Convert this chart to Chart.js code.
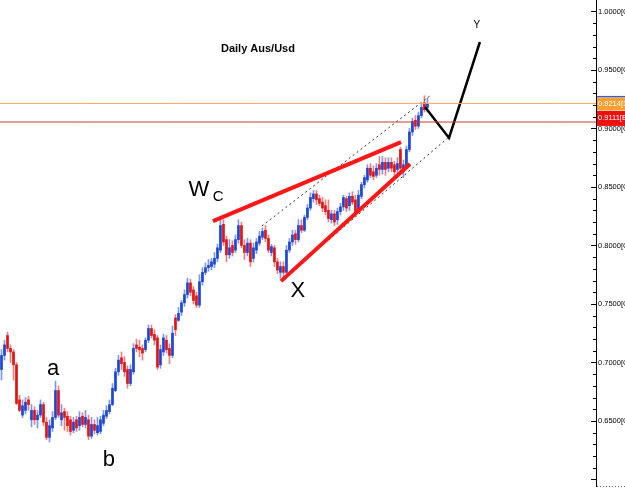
<!DOCTYPE html>
<html>
<head>
<meta charset="utf-8">
<script src="https://cdn.jsdelivr.net/npm/chart.js@4.4.0/dist/chart.umd.min.js"></script>
<style>
  html, body { margin: 0; padding: 0; background: #fff; }
</style>
</head>
<body>
<canvas id="chart" width="625" height="498"></canvas>
<script>
// daily AUD/USD candles
const opens = [
  0.694, 0.706, 0.723, 0.712, 0.709, 0.698, 0.668, 0.655, 0.659, 0.668,
  0.651, 0.659, 0.651, 0.655, 0.664, 0.649, 0.636, 0.644, 0.653, 0.676,
  0.651, 0.658, 0.654, 0.651, 0.642, 0.651, 0.646, 0.654, 0.647, 0.651,
  0.637, 0.647, 0.640, 0.641, 0.648, 0.654, 0.658, 0.664, 0.676, 0.692,
  0.704, 0.700, 0.694, 0.682, 0.692, 0.715, 0.713, 0.712, 0.711, 0.719,
  0.729, 0.724, 0.721, 0.698, 0.709, 0.719, 0.712, 0.706, 0.738, 0.736,
  0.743, 0.751, 0.758, 0.768, 0.762, 0.757, 0.749, 0.769, 0.777, 0.781,
  0.782, 0.784, 0.789, 0.796, 0.818, 0.805, 0.792, 0.800, 0.796, 0.805,
  0.817, 0.800, 0.794, 0.802, 0.789, 0.796, 0.802, 0.807, 0.813, 0.806,
  0.794, 0.798, 0.786, 0.777, 0.782, 0.777, 0.796, 0.803, 0.810, 0.805,
  0.817, 0.813, 0.824, 0.832, 0.840, 0.844, 0.840, 0.837, 0.834, 0.830,
  0.822, 0.827, 0.822, 0.829, 0.833, 0.840, 0.834, 0.842, 0.839, 0.830,
  0.842, 0.852, 0.856, 0.866, 0.863, 0.860, 0.869, 0.865, 0.871, 0.866,
  0.871, 0.869, 0.865, 0.882, 0.863, 0.868, 0.882, 0.897, 0.907, 0.902,
  0.911, 0.922, 0.918
];
const closes = [
  0.706, 0.715, 0.712, 0.709, 0.698, 0.665, 0.659, 0.663, 0.666, 0.664,
  0.659, 0.651, 0.655, 0.664, 0.649, 0.636, 0.646, 0.653, 0.676, 0.655,
  0.657, 0.653, 0.646, 0.641, 0.649, 0.644, 0.653, 0.647, 0.653, 0.637,
  0.647, 0.642, 0.646, 0.651, 0.655, 0.659, 0.664, 0.678, 0.692, 0.702,
  0.699, 0.692, 0.682, 0.694, 0.712, 0.712, 0.711, 0.708, 0.719, 0.729,
  0.723, 0.719, 0.696, 0.711, 0.721, 0.711, 0.706, 0.725, 0.728, 0.742,
  0.751, 0.758, 0.768, 0.760, 0.753, 0.749, 0.769, 0.777, 0.781, 0.783,
  0.786, 0.789, 0.798, 0.817, 0.803, 0.792, 0.798, 0.794, 0.805, 0.817,
  0.800, 0.794, 0.802, 0.786, 0.798, 0.803, 0.808, 0.812, 0.806, 0.796,
  0.799, 0.786, 0.779, 0.782, 0.777, 0.796, 0.803, 0.809, 0.805, 0.817,
  0.813, 0.824, 0.832, 0.841, 0.844, 0.839, 0.836, 0.832, 0.829, 0.823,
  0.827, 0.820, 0.829, 0.833, 0.841, 0.832, 0.842, 0.837, 0.829, 0.843,
  0.852, 0.858, 0.866, 0.860, 0.859, 0.866, 0.865, 0.871, 0.865, 0.871,
  0.866, 0.863, 0.870, 0.866, 0.869, 0.882, 0.897, 0.906, 0.902, 0.911,
  0.918, 0.916, 0.921
];
const highs = [
  0.711, 0.719, 0.726, 0.715, 0.711, 0.700, 0.672, 0.668, 0.670, 0.671,
  0.664, 0.662, 0.659, 0.668, 0.666, 0.653, 0.651, 0.658, 0.684, 0.680,
  0.664, 0.661, 0.658, 0.654, 0.653, 0.654, 0.658, 0.657, 0.659, 0.655,
  0.653, 0.651, 0.653, 0.654, 0.659, 0.663, 0.668, 0.682, 0.695, 0.706,
  0.709, 0.705, 0.697, 0.698, 0.716, 0.720, 0.719, 0.715, 0.721, 0.732,
  0.732, 0.728, 0.723, 0.715, 0.724, 0.723, 0.716, 0.731, 0.741, 0.747,
  0.753, 0.762, 0.772, 0.771, 0.765, 0.760, 0.775, 0.781, 0.785, 0.788,
  0.789, 0.794, 0.801, 0.822, 0.822, 0.808, 0.805, 0.804, 0.809, 0.822,
  0.820, 0.805, 0.806, 0.805, 0.802, 0.806, 0.812, 0.815, 0.817, 0.809,
  0.801, 0.800, 0.789, 0.786, 0.786, 0.800, 0.806, 0.813, 0.813, 0.822,
  0.822, 0.826, 0.835, 0.845, 0.847, 0.847, 0.843, 0.841, 0.839, 0.839,
  0.830, 0.830, 0.832, 0.836, 0.843, 0.842, 0.845, 0.846, 0.843, 0.847,
  0.854, 0.860, 0.869, 0.870, 0.868, 0.870, 0.876, 0.876, 0.875, 0.875,
  0.875, 0.872, 0.875, 0.884, 0.873, 0.885, 0.900, 0.909, 0.911, 0.914,
  0.921, 0.928, 0.926
];
const lows = [
  0.685, 0.702, 0.709, 0.700, 0.685, 0.664, 0.658, 0.653, 0.656, 0.659,
  0.645, 0.647, 0.644, 0.653, 0.646, 0.634, 0.632, 0.641, 0.651, 0.653,
  0.646, 0.642, 0.641, 0.638, 0.640, 0.641, 0.642, 0.645, 0.644, 0.634,
  0.635, 0.639, 0.638, 0.639, 0.646, 0.652, 0.656, 0.663, 0.675, 0.689,
  0.694, 0.688, 0.678, 0.680, 0.690, 0.709, 0.705, 0.702, 0.709, 0.717,
  0.721, 0.715, 0.694, 0.695, 0.706, 0.708, 0.699, 0.704, 0.723, 0.735,
  0.740, 0.748, 0.755, 0.757, 0.750, 0.747, 0.747, 0.766, 0.775, 0.778,
  0.779, 0.781, 0.786, 0.794, 0.800, 0.786, 0.789, 0.791, 0.794, 0.802,
  0.798, 0.788, 0.791, 0.782, 0.786, 0.793, 0.800, 0.805, 0.803, 0.794,
  0.791, 0.782, 0.776, 0.772, 0.770, 0.776, 0.794, 0.800, 0.801, 0.803,
  0.811, 0.812, 0.822, 0.830, 0.837, 0.835, 0.834, 0.829, 0.826, 0.820,
  0.819, 0.817, 0.818, 0.826, 0.830, 0.829, 0.830, 0.835, 0.826, 0.828,
  0.840, 0.849, 0.854, 0.858, 0.856, 0.858, 0.860, 0.861, 0.860, 0.863,
  0.863, 0.860, 0.862, 0.864, 0.858, 0.866, 0.880, 0.894, 0.899, 0.900,
  0.909, 0.914, 0.914
];

const yTicks = [0.65, 0.70, 0.75, 0.80, 0.85, 0.90, 0.95, 1.00];
const askPrice = 0.9214;
const bidPrice = 0.9055;
const priceTags = ['0.9214[1]', '0.9111[B]'];

// drawn-on lines (x = bar number, y = price)
const wedgeTop = [{ x: 71.0, y: 0.8208 }, { x: 133.7, y: 0.8884 }];
const wedgeBottom = [{ x: 93.7, y: 0.7695 }, { x: 136.7, y: 0.8696 }];
const channelTop = [{ x: 87.3, y: 0.8166 }, { x: 143.3, y: 0.9278 }];
const channelBottom = [{ x: 108.3, y: 0.8020 }, { x: 149.3, y: 0.8919 }];
const projection = [{ x: 141.7, y: 0.9183 }, { x: 149.7, y: 0.8919 }, { x: 160.0, y: 0.9739 }];

const notes = [
  { text: 'Daily Aus/Usd', x: 86.0, y: 0.9679, font: 'bold 11px Arial' },
  { text: 'a', x: 17.7, y: 0.6943, font: '22px Arial' },
  { text: 'b', x: 36.3, y: 0.6165, font: '22px Arial' },
  { text: 'W', x: 66.3, y: 0.8474, font: '22px Arial' },
  { text: 'C', x: 72.7, y: 0.8414, font: '15px Arial' },
  { text: 'X', x: 99.3, y: 0.7610, font: '22px Arial' },
  { text: 'Y', x: 159.0, y: 0.9884, font: '10px Arial' }
];

const X_MAX = 198.7;
const BLUE = '#1c46d6';
const RED = '#e41414';

const bodies = opens.map((o, i) => ({ x: i + 0.5, y: [o, closes[i]] }));
const wicks = opens.map((o, i) => ({ x: i + 0.5, y: [lows[i], highs[i]] }));
const up = opens.map((o, i) => closes[i] >= o);

function line(data, color, width, dash) {
  return {
    type: 'line',
    data: data,
    borderColor: color,
    borderWidth: width,
    borderDash: dash || [],
    pointRadius: 0,
    fill: false,
    tension: 0,
    order: 0
  };
}

const extras = {
  id: 'extras',
  afterDraw(chart) {
    const ctx = chart.ctx;
    const xs = chart.scales.x;
    const ys = chart.scales.y;
    const area = chart.chartArea;
    ctx.save();

    // ticks inside the axis
    ctx.strokeStyle = '#000';
    ctx.lineWidth = 1;
    for (let k = 60; k <= 100; k++) {
      const y = Math.round(ys.getPixelForValue(k / 100)) + 0.5;
      const len = k % 5 === 0 ? 5 : 3;
      ctx.beginPath();
      ctx.moveTo(area.right - len, y);
      ctx.lineTo(area.right, y);
      ctx.stroke();
    }
    ctx.setLineDash([1, 2]);
    ctx.strokeStyle = '#666';
    ctx.beginPath();
    ctx.moveTo(area.right + 1, area.bottom + 0.5);
    ctx.lineTo(chart.width, area.bottom + 0.5);
    ctx.stroke();
    ctx.setLineDash([]);

    // price tags on the axis
    const yAsk = ys.getPixelForValue(askPrice);
    ctx.font = '7.5px Arial';
    ctx.textBaseline = 'middle';
    ctx.textAlign = 'left';
    ctx.fillStyle = '#2f5fe0';
    ctx.fillRect(area.right + 1, yAsk - 7.5, 40, 1.5);
    ctx.fillStyle = '#f6a030';
    ctx.fillRect(area.right + 1, yAsk - 6, 40, 13);
    ctx.fillStyle = '#fff';
    ctx.fillText(priceTags[0], area.right + 2, yAsk + 0.5);
    ctx.fillStyle = '#f01010';
    ctx.fillRect(area.right + 1, yAsk + 7.5, 40, 15);
    ctx.fillStyle = '#fff';
    ctx.fillText(priceTags[1], area.right + 2, yAsk + 15);

    // annotations
    ctx.fillStyle = '#000';
    ctx.textAlign = 'center';
    notes.forEach(n => {
      ctx.font = n.font;
      ctx.fillText(n.text, xs.getPixelForValue(n.x), ys.getPixelForValue(n.y));
    });
    ctx.restore();
  }
};

new Chart(document.getElementById('chart'), {
  type: 'bar',
  data: {
    datasets: [
      line([{ x: 0, y: askPrice }, { x: X_MAX, y: askPrice }], '#f2a860', 1),
      line([{ x: 0, y: bidPrice }, { x: X_MAX, y: bidPrice }], '#c83a3a', 1),
      line(wedgeTop, '#ff1616', 4),
      line(wedgeBottom, '#ff1616', 4),
      line(channelTop, '#333', 1, [2, 3]),
      line(channelBottom, '#333', 1, [2, 3]),
      line(projection, '#000', 2.5),
      {
        data: bodies,
        backgroundColor: up.map(u => (u ? BLUE : RED)),
        barThickness: 2,
        grouped: false,
        order: 1
      },
      {
        data: wicks,
        backgroundColor: up.map(u => (u ? '#7c98ea' : '#ea8080')),
        barThickness: 1,
        grouped: false,
        order: 2
      }
    ]
  },
  options: {
    responsive: false,
    animation: false,
    layout: { padding: { top: 0, left: 0, right: 0, bottom: 12 } },
    plugins: {
      legend: { display: false },
      tooltip: { enabled: false },
      title: { display: false }
    },
    scales: {
      x: {
        type: 'linear',
        min: 0,
        max: X_MAX,
        offset: false,
        display: false
      },
      y: {
        position: 'right',
        min: 0.5944,
        max: 1.0098,
        grid: { display: false, drawTicks: false },
        border: { display: true, color: '#000', width: 1 },
        afterBuildTicks: s => { s.ticks = yTicks.map(v => ({ value: v })); },
        afterFit: s => { s.width = 29; s.paddingTop = 0; s.paddingBottom = 0; },
        ticks: {
          padding: 2,
          color: '#000',
          font: { family: 'Arial', size: 7.5 },
          callback: v => v.toFixed(4) + '[CHF]'
        }
      }
    }
  },
  plugins: [extras]
});
</script>
</body>
</html>
